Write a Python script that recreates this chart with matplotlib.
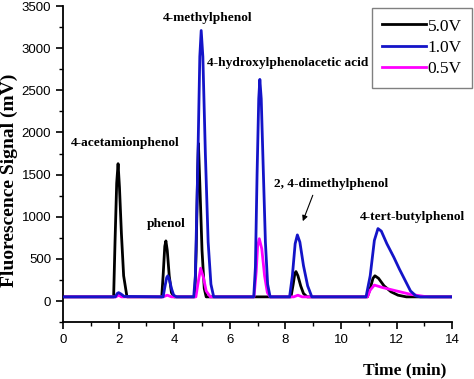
import matplotlib.pyplot as plt
from matplotlib.ticker import MultipleLocator

# chromatogram traces (time in min, signal in mV)
t_5v = [0, 1.82, 1.87, 1.93, 1.98, 2.03, 2.1, 2.18, 2.3,
        3.55, 3.6, 3.66, 3.7, 3.75, 3.82, 3.9, 4.0,
        4.74, 4.79, 4.84, 4.87, 4.92, 5.0, 5.08, 5.15,
        8.2, 8.28, 8.34, 8.38, 8.45, 8.55, 8.65, 8.78,
        10.95, 11.05, 11.15, 11.22, 11.35, 11.55, 11.8, 12.05, 12.35, 14]
s_5v = [50, 50, 700, 1400, 1630, 1350, 800, 300, 50,
        50, 300, 650, 714, 600, 300, 100, 50,
        50, 600, 1500, 1870, 1400, 600, 150, 50,
        50, 200, 330, 350, 300, 180, 90, 50,
        50, 150, 270, 300, 270, 180, 110, 70, 50, 50]

t_1v = [0, 1.88, 1.95, 2.0, 2.08, 2.2,
        3.6, 3.67, 3.73, 3.77, 3.83, 3.9, 3.98, 4.08,
        4.7, 4.76, 4.84, 4.92, 4.97, 5.03, 5.12, 5.22, 5.32, 5.42,
        6.86, 6.92, 6.98, 7.04, 7.08, 7.13, 7.2, 7.28, 7.36, 7.45,
        8.15, 8.25, 8.35, 8.43, 8.52, 8.65, 8.8, 8.95,
        10.9, 11.05, 11.2, 11.33, 11.45, 11.65, 11.9, 12.1, 12.3, 12.5, 12.7, 12.85, 14]
s_1v = [50, 50, 90, 100, 85, 55,
        50, 180, 280, 300, 250, 150, 70, 50,
        50, 300, 1500, 2900, 3210, 2900, 1750, 700, 200, 50,
        50, 400, 1500, 2400, 2630, 2400, 1600, 700, 200, 50,
        50, 300, 680, 785, 700, 420, 180, 50,
        50, 300, 720, 860, 830, 680, 520, 380, 250, 120, 60, 50, 50]

t_05v = [0, 1.9, 2.0, 2.1,
         3.6, 3.75, 3.9,
         4.78, 4.85, 4.95, 5.05, 5.15, 5.3,
         6.87, 6.95, 7.0, 7.06, 7.15, 7.25, 7.35, 7.45,
         8.3, 8.45, 8.6,
         10.95, 11.05, 11.2, 11.5, 12.0, 12.5, 13.0, 13.2, 14]
s_05v = [50, 50, 70, 50,
         50, 70, 50,
         50, 200, 390, 280, 120, 50,
         50, 350, 650, 740, 620, 300, 100, 50,
         50, 70, 50,
         50, 130, 190, 160, 120, 80, 55, 50, 50]

peak_names = ["4-acetamionphenol", "phenol", "4-methylphenol",
              "4-hydroxylphenolacetic acid", "2, 4-dimethylphenol", "4-tert-butylphenol"]
label_t = [2.24, 3.73, 5.19, 8.07, 9.65, 12.58]
label_s = [1870, 916, 3357, 2820, 1393, 1000]

fig = plt.figure(figsize=(4.74, 3.79), dpi=100)
ax = fig.add_axes([0.133, 0.150, 0.821, 0.834])

ax.plot(t_5v, s_5v, color="black", lw=2.0, label="5.0V")
ax.plot(t_1v, s_1v, color="#1414c8", lw=2.0, label="1.0V", zorder=3)
ax.plot(t_05v, s_05v, color="#ff00ff", lw=2.0, label="0.5V", zorder=2)

for name, x, y in zip(peak_names, label_t, label_s):
    ax.text(x, y, name, ha="center", va="center", family="Liberation Serif",
            fontweight="bold", fontsize=9.6)

ax.annotate("", xy=(8.59, 917), xytext=(9.02, 1286),
            arrowprops=dict(arrowstyle="-|>", color="black", lw=0.8, mutation_scale=8))

ax.set_xlim(0, 14)
ax.set_ylim(-250, 3500)
ax.xaxis.set_major_locator(MultipleLocator(2))
ax.xaxis.set_minor_locator(MultipleLocator(1))
ax.yaxis.set_major_locator(MultipleLocator(500))
ax.yaxis.set_minor_locator(MultipleLocator(250))
ax.tick_params(which="major", direction="out", length=5, width=1.2, labelsize=9.5)
ax.tick_params(which="minor", direction="out", length=3, width=1.0)
for lbl in ax.get_xticklabels() + ax.get_yticklabels():
    lbl.set_family("Liberation Sans")
ax.spines["top"].set_visible(False)
ax.spines["right"].set_visible(False)
ax.spines["left"].set_linewidth(1.3)
ax.spines["bottom"].set_linewidth(1.3)

ylab = ax.set_ylabel("Fluorescence Signal (mV)", family="Liberation Serif",
                     fontweight="bold", fontsize=14)
ylab.set_va("center")
ax.yaxis.set_label_coords(-0.138, 0.45)
xlab = ax.set_xlabel("Time (min)", family="Liberation Serif", fontweight="bold",
                     fontsize=12.5)
xlab.set_va("center")
ax.xaxis.set_label_coords(0.877, -0.152)

leg = ax.legend(loc="upper right", bbox_to_anchor=(1.051, 0.994),
                prop={"family": "Liberation Serif", "size": 12.5},
                fancybox=False, framealpha=1, edgecolor="gray",
                handlelength=2.5, labelspacing=0.3, handletextpad=0.1,
                borderpad=0.6, borderaxespad=0)
leg.get_frame().set_linewidth(1.0)

fig.savefig("out.png", dpi=100)
